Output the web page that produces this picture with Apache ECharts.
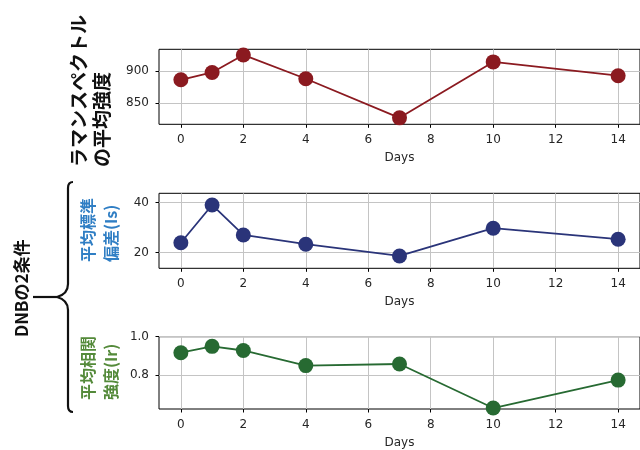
<!DOCTYPE html>
<html>
<head>
<meta charset="utf-8">
<script src="https://cdn.jsdelivr.net/npm/echarts@6/dist/echarts.min.js"></script>
<style>
  html, body { margin: 0; padding: 0; background: #fff; }
  #chart { width: 640px; height: 450px; }
</style>
</head>
<body>
<div id="chart"></div>
<script>
// Measurement days and the three tracked quantities
const days = [0, 1, 2, 4, 7, 10, 14];
const ramanMeanIntensity = [886, 897.4, 924.8, 887.6, 826.5, 913.9, 892.3];
const dnbMeanStdIs = [24.0, 39.1, 27.1, 23.4, 18.7, 29.8, 25.4];
const dnbMeanCorrIr = [0.917, 0.95, 0.9285, 0.85, 0.8585, 0.63, 0.775];

// Tick labels
const dayTicks = [0, 2, 4, 6, 8, 10, 12, 14];
const ramanTicks = [850, 900];
const stdTicks = [20, 40];
const corrTicks = [0.8, 1.0];

// Axis ranges
const dayRange = [-0.7, 14.7];
const ramanRange = [816.4, 933.6];
const stdRange = [13.76, 43.76];
const corrRange = [0.625, 1.0];

const chart = echarts.init(document.getElementById('chart'), null, { renderer: 'canvas' });

const tickFont = { fontFamily: 'DejaVu Sans', fontSize: 12, color: '#262626' };
const gridLine = { show: true, lineStyle: { color: '#c4c4c4', width: 1 } };
const tickStyle = (vals) => ({ show: true, inside: false, length: 3.5, customValues: vals, lineStyle: { color: '#000', width: 1 } });

const gridTops = [49.3, 193.3, 336.7];
const grids = gridTops.map(t => ({
  left: 159, width: 484, top: t, height: 75,
  show: true, borderColor: '#000', borderWidth: 1, backgroundColor: 'transparent'
}));

const xAxes = gridTops.map((t, i) => ({
  type: 'value', gridIndex: i, min: dayRange[0], max: dayRange[1],
  name: 'Days', nameLocation: 'middle', nameGap: 28,
  nameTextStyle: tickFont,
  axisLine: { show: false, onZero: false },
  axisTick: tickStyle(dayTicks),
  axisLabel: Object.assign({ customValues: dayTicks, margin: 10 }, tickFont),
  splitLine: gridLine
}));

function yAxis(i, range, ticks, fmt) {
  return {
    type: 'value', gridIndex: i, min: range[0], max: range[1],
    axisLine: { show: false, onZero: false },
    axisTick: tickStyle(ticks),
    axisLabel: Object.assign({ customValues: ticks, margin: 10, formatter: fmt }, tickFont),
    splitLine: gridLine
  };
}

const pairs = vals => days.map((d, k) => [d, vals[k]]);

function series(i, vals, color) {
  return {
    type: 'line', xAxisIndex: i, yAxisIndex: i, data: pairs(vals),
    symbol: 'circle', symbolSize: 15, clip: true,
    lineStyle: { color: color, width: 1.8 },
    itemStyle: { color: color },
    emphasis: { disabled: true }, animation: false
  };
}

// Rotated text reading bottom-to-top, anchored at its lower end
function vText(x, yBottom, text, font, color) {
  return {
    type: 'text', x: x, y: yBottom, rotation: Math.PI / 2,
    style: { text: text, font: font, fill: color, align: 'left', verticalAlign: 'middle' }
  };
}

const cjkBold = size => 'bold ' + size + 'px "Noto Sans CJK JP"';

// Curly brace grouping the two DNB panels
const braceStroke = { stroke: '#111', lineWidth: 2.2, fill: null };
const curve = (x1, y1, cx, cy, x2, y2) => ({
  type: 'bezierCurve', shape: { x1: x1, y1: y1, cpx1: cx, cpy1: cy, x2: x2, y2: y2 }, style: braceStroke
});
const seg = (x1, y1, x2, y2) => ({
  type: 'line', shape: { x1: x1, y1: y1, x2: x2, y2: y2 }, style: braceStroke
});
const brace = [
  curve(73, 182, 68, 182, 68, 188),
  seg(68, 188, 68, 284),
  curve(68, 284, 68, 294, 57, 297),
  seg(57, 297, 33, 297),
  curve(57, 297, 68, 300, 68, 310),
  seg(68, 310, 68, 406),
  curve(68, 406, 68, 412, 73, 412)
];

chart.setOption({
  animation: false,
  grid: grids,
  xAxis: xAxes,
  yAxis: [
    yAxis(0, ramanRange, ramanTicks, v => String(v)),
    yAxis(1, stdRange, stdTicks, v => String(v)),
    yAxis(2, corrRange, corrTicks, v => v.toFixed(1))
  ],
  series: [
    series(0, ramanMeanIntensity, '#8b1a20'),
    series(1, dnbMeanStdIs, '#2a3479'),
    series(2, dnbMeanCorrIr, '#276a32')
  ],
  graphic: [
    vText(79, 167, 'ラマンスペクトル', cjkBold(19), '#111'),
    vText(102, 167, 'の平均強度', cjkBold(19), '#111'),
    vText(88, 262, '平均標準', cjkBold(16), '#2f7ec4'),
    vText(111, 262, '偏差(Is)', cjkBold(16), '#2f7ec4'),
    vText(88, 400, '平均相関', cjkBold(16), '#548a3a'),
    vText(111, 400, '強度(Ir)', cjkBold(16), '#548a3a'),
    vText(22, 337, 'DNBの2条件', cjkBold(17), '#111')
  ].concat(brace)
});
</script>
</body>
</html>
